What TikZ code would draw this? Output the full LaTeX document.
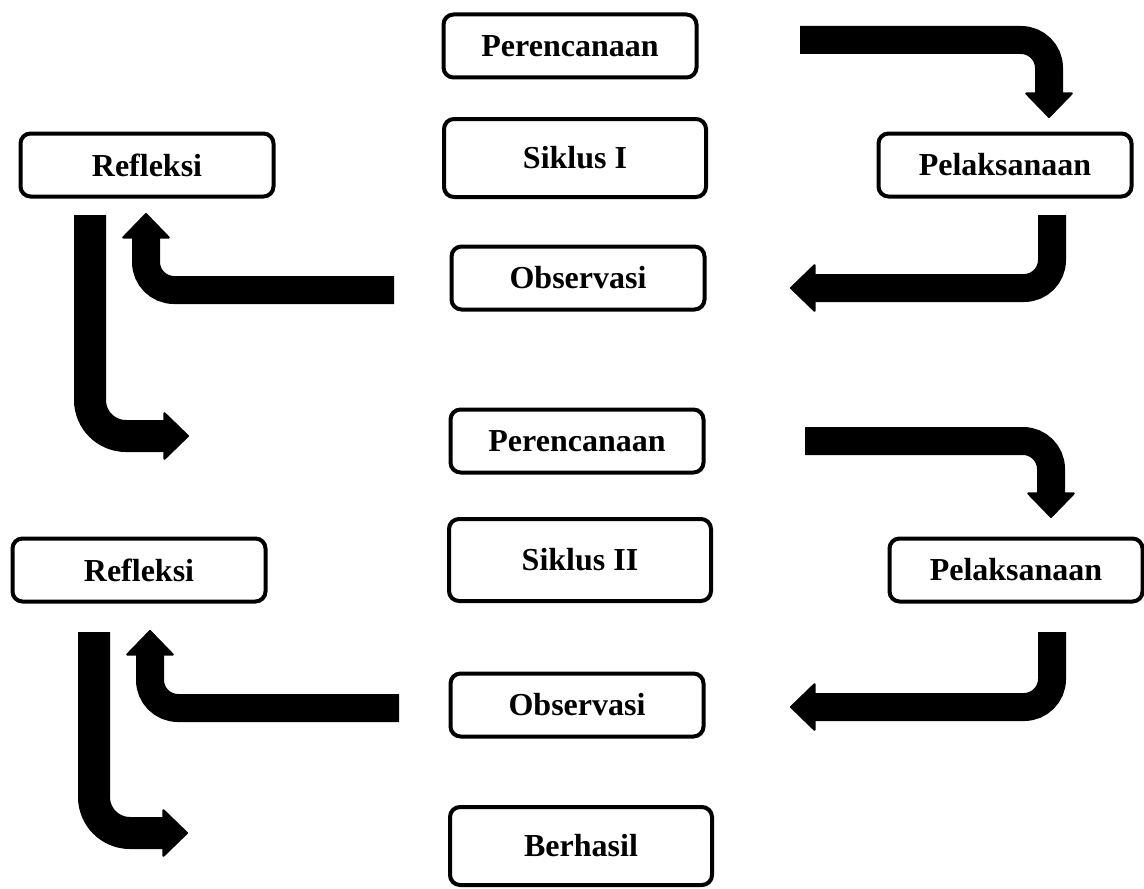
\documentclass[tikz,border=0pt]{standalone}
\usepackage{fontspec}
\setmainfont{Liberation Serif}
\usetikzlibrary{arrows.meta}
\begin{document}
\begin{tikzpicture}[x = .5pt, y = -.5pt,
  kotak/.style = {draw, line width = 2pt, rounded corners = 5pt, minimum width = 126.5pt, minimum height = 31.5pt, font = \fontsize{16}{19}\selectfont\bfseries},
  siklus/.style = {kotak, minimum width = 131pt, minimum height = 39pt},
  panah/.style = {line width = 14pt, rounded corners = 14pt, -{Triangle[width = 25pt 0 0, length = 13pt 0 0, line width = 1pt 0 0, round]}}]
  \useasboundingbox (0, 0) rectangle (1144, 888);
  \node[kotak] (per1) at (570, 46) {Perencanaan};
  \node[siklus] (sik1) at (575, 158) {Siklus I};
  \node[kotak] (obs1) at (578, 278) {Observasi};
  \node[kotak] (ref1) at (147, 165) {Refleksi};
  \node[kotak] (pel1) at (1005, 165) {Pelaksanaan};
  \node[kotak] (per2) at (577, 441) {Perencanaan};
  \node[siklus, minimum height = 41pt] (sik2) at (580, 560) {Siklus II};
  \node[kotak] (ref2) at (139, 570) {Refleksi};
  \node[kotak] (pel2) at (1016, 570) {Pelaksanaan};
  \node[kotak] (obs2) at (577, 705) {Observasi};
  \node[siklus] (ber) at (581, 846) {Berhasil};
  \coordinate (a1) at (800, 40);   \coordinate (b1) at (1049, 118);
  \coordinate (a2) at (1052, 215); \coordinate (b2) at (790, 288);
  \coordinate (a3) at (394, 290);  \coordinate (b3) at (146, 213);
  \coordinate (a4) at (90, 215);   \coordinate (b4) at (189, 436);
  \coordinate (a5) at (805, 441);  \coordinate (b5) at (1051, 518);
  \coordinate (a6) at (1052, 632); \coordinate (b6) at (790, 707);
  \coordinate (a7) at (399, 708);  \coordinate (b7) at (150, 630);
  \coordinate (a8) at (94, 632);   \coordinate (b8) at (188, 833);
  \draw[panah] (a1) -| (b1);
  \draw[panah] (a2) |- (b2);
  \draw[panah] (a3) -| (b3);
  \draw[panah, line width = 16pt, rounded corners = 18pt] (a4) |- (b4);
  \draw[panah] (a5) -| (b5);
  \draw[panah] (a6) |- (b6);
  \draw[panah] (a7) -| (b7);
  \draw[panah, line width = 16pt, rounded corners = 18pt] (a8) |- (b8);
\end{tikzpicture}
\end{document}
